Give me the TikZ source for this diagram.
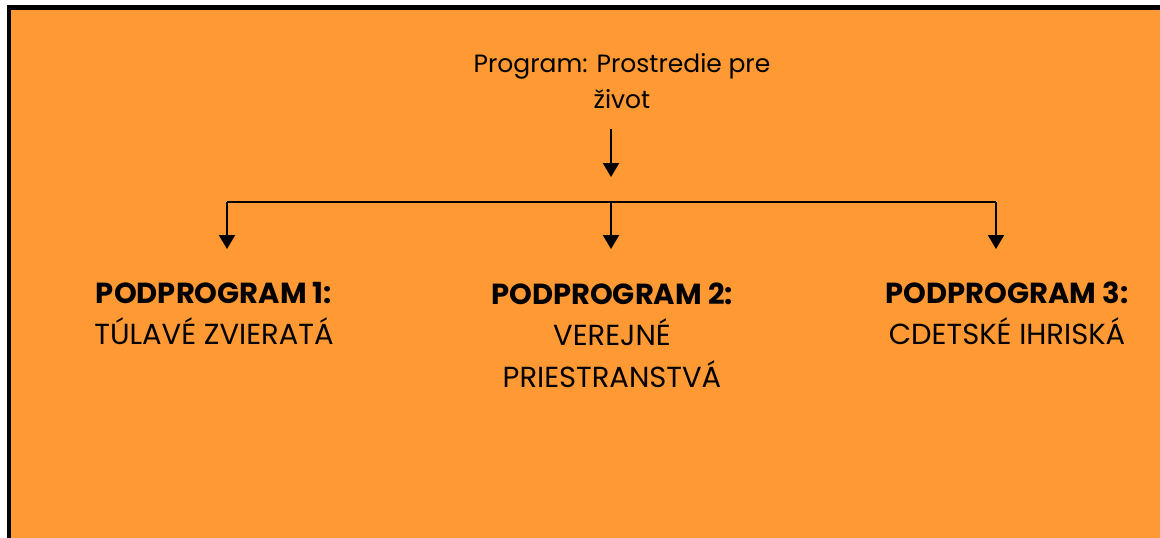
\documentclass[tikz,border=0pt]{standalone}
\usepackage{fontspec}
\setmainfont{Poppins}
\usetikzlibrary{arrows.meta}
\definecolor{bgorange}{RGB}{254,153,51}
\newcommand{\stack}[1]{\begin{tabular}[t]{@{}c@{}}#1\end{tabular}}
\tikzset{
  lbl/.style={inner sep=0pt, anchor=base, font=\fontsize{25}{36}\selectfont},
  sub/.style={inner sep=0pt, anchor=base, font=\fontsize{29}{41.5}\selectfont},
  conn/.style={line width=2pt, draw=black},
  arr/.style={conn, -{Triangle[width=16pt,length=14pt]}}
}
\begin{document}
\begin{tikzpicture}[x=1pt,y=-1pt]
\useasboundingbox (0,0) rectangle (1160,538);
\fill[white] (0,0) rectangle (1160,538);
\begin{scope}
\clip (0,0) rectangle (1160,538);
\draw[fill=bgorange, line width=4.5pt] (8.8,7.5) rectangle (1170,550);
\end{scope}
\node[lbl] (prog) at (622,72) {\stack{Program: Prostredie pre\\život}};
\node[sub] (p1) at (214,303) {\stack{\textbf{PODPROGRAM 1:}\\TÚLAVÉ ZVIERATÁ}};
\node[sub] (p2) at (612,304) {\stack{\textbf{PODPROGRAM 2:}\\VEREJNÉ\\PRIESTRANSTVÁ}};
\node[sub] (p3) at (1007,303) {\stack{\textbf{PODPROGRAM 3:}\\CDETSKÉ IHRISKÁ}};
\coordinate (a0) at (611,129);
\coordinate (a1) at (611,177);
\coordinate (hl) at (227,202);
\coordinate (hm) at (611,202);
\coordinate (hr) at (996,202);
\coordinate (tl) at (227,249);
\coordinate (tm) at (611,249);
\coordinate (tr) at (996,249);
\draw[arr] (a0) -- (a1);
\draw[conn] (hl) -- (hr);
\draw[arr] (hl) -- (tl);
\draw[arr] (hm) -- (tm);
\draw[arr] (hr) -- (tr);
\end{tikzpicture}
\end{document}
